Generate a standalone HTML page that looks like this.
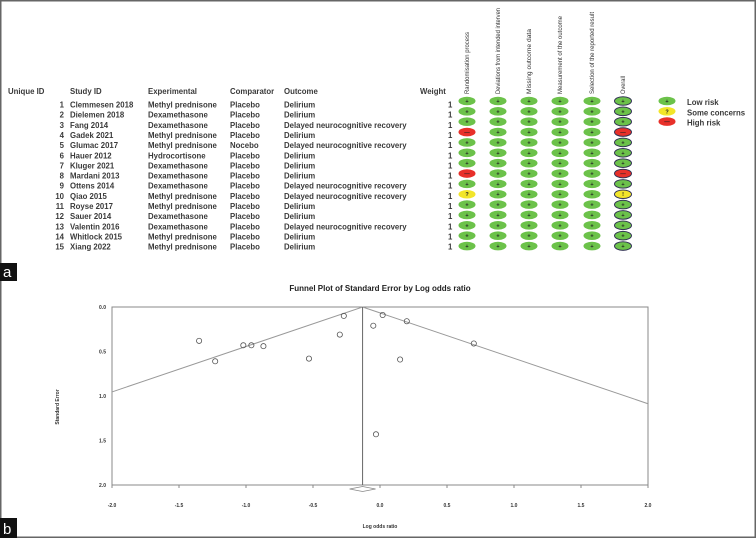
<!DOCTYPE html>
<html><head><meta charset="utf-8"><style>
body{margin:0;background:#fff}
svg{display:block;font-family:"Liberation Sans",sans-serif}
.t{font-size:7.8px;font-weight:bold;fill:#3a3a3a}
</style></head><body>
<svg id="s" width="756" height="538" viewBox="0 0 756 538">
<rect x="0.75" y="0.75" width="754.5" height="536.5" fill="#fff" stroke="#666" stroke-width="1.5"/>
<g id="tbl"></g>
<g id="fp"></g>
<rect x="0" y="263" width="17" height="18" fill="#111"/>
<text x="3" y="277" font-size="15" fill="#fff">a</text>
<rect x="0" y="518" width="17" height="20" fill="#111"/>
<text x="3" y="534" font-size="15" fill="#fff">b</text>
</svg>
<script>
const NS="http://www.w3.org/2000/svg";
const studies=["Clemmesen  2018","Dielemen 2018","Fang 2014","Gadek 2021","Glumac 2017","Hauer 2012","Kluger 2021","Mardani 2013","Ottens 2014","Qiao 2015","Royse 2017","Sauer 2014","Valentin 2016","Whitlock 2015","Xiang 2022"];
const experimental=["Methyl prednisone","Dexamethasone","Dexamethasone","Methyl prednisone","Methyl prednisone","Hydrocortisone","Dexamethasone","Dexamethasone","Dexamethasone","Methyl prednisone","Methyl prednisone","Dexamethasone","Dexamethasone","Methyl prednisone","Methyl prednisone"];
const comparator=["Placebo","Placebo","Placebo","Placebo","Nocebo","Placebo","Placebo","Placebo","Placebo","Placebo","Placebo","Placebo","Placebo","Placebo","Placebo"];
const outcome=["Delirium","Delirium","Delayed neurocognitive recovery","Delirium","Delayed neurocognitive recovery","Delirium","Delirium","Delirium","Delayed neurocognitive recovery","Delayed neurocognitive recovery","Delirium","Delirium","Delayed neurocognitive recovery","Delirium","Delirium"];
const domains=["Randomisation process","Deviations from intended interven","Missing outcome data","Measurement of the outcome","Selection of the reported result","Overall"];
const domainLen=[62,86,65,78,82,18];
const randomisation=["L","L","L","H","L","L","L","H","L","S","L","L","L","L","L"];
const overall=["L","L","L","H","L","L","L","H","L","S","L","L","L","L","L"];
// funnel data
const logOR=[-1.35,-1.23,-1.02,-0.96,-0.87,-0.53,-0.30,-0.27,-0.05,0.02,0.20,0.70,0.15,-0.03];
const stdErr=[0.38,0.61,0.43,0.43,0.44,0.58,0.31,0.10,0.21,0.09,0.16,0.41,0.59,1.43];
const pooled=-0.13;
const xTicks=[-2.0,-1.5,-1.0,-0.5,0.0,0.5,1.0,1.5,2.0];
const yTicks=[0.0,0.5,1.0,1.5,2.0];

function el(tag,attrs,parent,txt){const e=document.createElementNS(NS,tag);for(const k in attrs)e.setAttribute(k,attrs[k]);if(txt!==undefined)e.textContent=txt;parent.appendChild(e);return e;}
const tbl=document.getElementById('tbl');
const heads=[["Unique ID",8],["Study ID",70],["Experimental",148],["Comparator",230],["Outcome",284],["Weight",420]];
heads.forEach(h=>{const t=el('text',{x:h[1],y:94,class:'t'},tbl,h[0]);

});
const colX=[467,498,529,560,592,623];
domains.forEach((d,i)=>{const t=el('text',{transform:`translate(${colX[i]+2},94) rotate(-90)`,'font-size':'6.5','fill':'#333','textLength':domainLen[i],'lengthAdjust':'spacingAndGlyphs'},tbl,d);

});
const col={L:"#6cc24a",S:"#f2e52a",H:"#e8302a"};
const sym={L:"+",S:"?",H:"—"};
studies.forEach((s,i)=>{
 const ty=107.5+i*10.15;
 const n=el('text',{x:64,y:ty,class:'t','text-anchor':'end'},tbl,String(i+1));
 
 
 const a=el('text',{x:70,y:ty,class:'t'},tbl,s);
 
 
 const b=el('text',{x:148,y:ty,class:'t'},tbl,experimental[i]);
 
 
 const c=el('text',{x:230,y:ty,class:'t'},tbl,comparator[i]);
 
 
 const d=el('text',{x:284,y:ty,class:'t'},tbl,outcome[i]);
 
 
 const w=el('text',{x:448,y:ty,class:'t'},tbl,"1");
 
 
 const cy=101+i*10.36;
 for(let j=0;j<6;j++){
  const r=j==0?randomisation[i]:(j==5?overall[i]:"L");
  const e=el('ellipse',{cx:colX[j],cy:cy,rx:8.5,ry:4.3,fill:col[r],stroke:j==5?"#335":"none","stroke-width":1},tbl);
  
  
  const g=el('text',{x:colX[j],y:cy+2,'font-size':'5.5','font-weight':'bold','text-anchor':'middle',fill:'#222'},tbl,j==5&&r=="S"?"!":sym[r]);
  
  
 }
});
[["L","Low risk"],["S","Some concerns"],["H","High risk"]].forEach((l,i)=>{
 const cy=101+i*10.3;
 const e=el('ellipse',{cx:667,cy:cy,rx:8.5,ry:4.3,fill:col[l[0]]},tbl);
 
 
 el('text',{x:667,y:cy+2,'font-size':'5.5','font-weight':'bold','text-anchor':'middle',fill:'#222'},tbl,sym[l[0]]);
 const t=el('text',{x:687,y:cy+4,class:'t'},tbl,l[1]);
 
 
});

// funnel plot
const fp=document.getElementById('fp');
const L=112,R=648,T=307,B=485;
const xs=v=>L+(v+2)/4*(R-L), ys=v=>T+v/2*(B-T);
const tt=el('text',{x:380,y:291,'font-size':'8','font-weight':'bold','text-anchor':'middle',fill:'#222'},fp,"Funnel Plot of Standard Error by Log odds ratio");


const box=el('rect',{x:L,y:T,width:R-L,height:B-T,fill:'none',stroke:'#888','stroke-width':1},fp);


const seL=(pooled+2)/1.96, seR=(2-pooled)/1.96;
const fl=el('polyline',{points:`${xs(-2)},${ys(seL)} ${xs(pooled)},${ys(0)} ${xs(2)},${ys(seR)}`,fill:'none',stroke:'#999','stroke-width':1},fp);


const vl=el('line',{x1:xs(pooled),x2:xs(pooled),y1:T,y2:B,stroke:'#666','stroke-width':1},fp);


const px=xs(pooled);
const dm=el('polygon',{points:`${px-13},${B+4} ${px},${B+1.5} ${px+13},${B+4} ${px},${B+6.5}`,fill:'#fff',stroke:'#888','stroke-width':0.8},fp);


logOR.forEach((v,i)=>{const c=el('circle',{cx:xs(v),cy:ys(stdErr[i]),r:2.6,fill:'none',stroke:'#555','stroke-width':0.8},fp);

});
xTicks.forEach(v=>{
 el('line',{x1:xs(v),x2:xs(v),y1:B,y2:B+3,stroke:'#888'},fp);
 const t=el('text',{x:xs(v),y:507,'font-size':'5','font-weight':'bold','text-anchor':'middle',fill:'#333'},fp,v.toFixed(1));
 
 
});
yTicks.forEach(v=>{
 const t=el('text',{x:106,y:ys(v)+2,'font-size':'5','font-weight':'bold','text-anchor':'end',fill:'#333'},fp,v.toFixed(1));
 
 
});
const xa=el('text',{x:380,y:528,'font-size':'5','font-weight':'bold','text-anchor':'middle',fill:'#333'},fp,"Log odds ratio");


const ya=el('text',{transform:'translate(59,407) rotate(-90)','font-size':'5','font-weight':'bold','text-anchor':'middle',fill:'#333'},fp,"Standard Error");


</script>
</body></html>
